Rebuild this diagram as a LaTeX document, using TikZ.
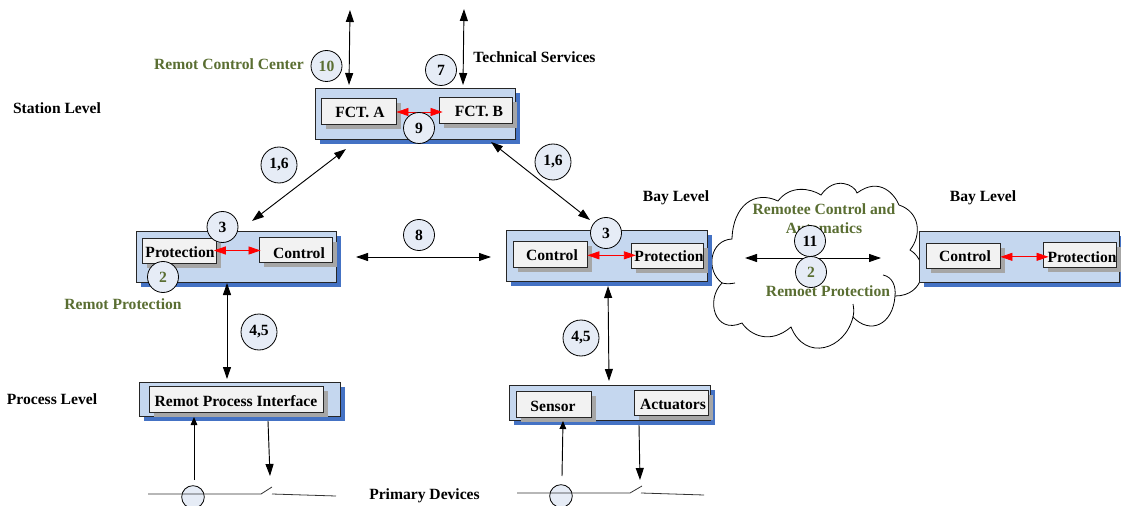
\documentclass[tikz,border=0pt]{standalone}
\usepackage{fontspec}
\setmainfont{Liberation Serif}
\usepackage{tikz}
\usetikzlibrary{arrows.meta}
\usetikzlibrary{fit}
\definecolor{panelfill}{HTML}{C5D7EF}
\definecolor{panelblue}{HTML}{4472C4}
\definecolor{cellgrey}{HTML}{A6A6A6}
\definecolor{cellfill}{HTML}{F2F2F2}
\definecolor{badgefill}{HTML}{E6ECF6}
\definecolor{remotgreen}{HTML}{5A6E32}
\tikzset{
  panel/.style={draw=black!85,line width=0.65pt,fill=panelfill,inner sep=0pt},
  cellbox/.style={draw=black!85,line width=0.65pt,fill=cellfill,inner sep=0pt},
  badge/.style={shape=circle,draw=black,line width=0.6pt,fill=badgefill,inner sep=0pt,font=\fontsize{11.7}{13}\bfseries},
  meter/.style={shape=circle,draw=black,line width=0.6pt,fill=badgefill,minimum size=17pt,inner sep=0pt},
  lbl/.style={inner sep=0pt,font=\fontsize{11.7}{13}\bfseries},
  greenlbl/.style={lbl,text=remotgreen},
  link/.style={line width=0.7pt,{Triangle[length=9pt,width=6pt]}-{Triangle[length=9pt,width=6pt]}},
  redlink/.style={red,line width=0.6pt,{Triangle[length=9pt,width=6pt]}-{Triangle[length=9pt,width=6pt]}},
  feed/.style={line width=0.7pt,-{Triangle[length=9pt,width=6pt]}},
  feedup/.style={line width=0.7pt,-{Triangle[length=6pt,width=5pt]}},
  busline/.style={line width=0.6pt,black!80}
}
\newcommand{\panelbox}[5]{
  \fill[panelblue] (#2+5,#3+5) rectangle (#4+5,#5+5);
  \node[panel,fit={(#2,#3)(#4,#5)}] (#1) {};}
\newcommand{\cellnode}[8]{
  \fill[cellgrey] (#2+5,#3+5) rectangle (#4+5,#5+5);
  \node[cellbox,fit={(#2,#3)(#4,#5)}] (#1) {};
  \node[lbl] (#1text) at (#6,#7) {#8};}
\newcommand{\numbadge}[5]{\node[badge,minimum size=#4*1.5pt] (#1) at (#2,#3) {#5};}
\begin{document}
\begin{tikzpicture}[x=0.75pt,y=-0.75pt]
\useasboundingbox (0,0) rectangle (1121,506);
% free ends of the links
\coordinate (rcup) at (350,10);
\coordinate (rcdown) at (349,85);
\coordinate (tsup) at (464,9);
\coordinate (tsdown) at (463,85);
\coordinate (leftup) at (346,149);
\coordinate (leftdown) at (252,221);
\coordinate (rightup) at (491,142);
\coordinate (rightdown) at (590,220);
\coordinate (hleft) at (356,257);
\coordinate (hright) at (491,257);
\coordinate (vlefttop) at (227,283);
\coordinate (vleftbot) at (227,379);
\coordinate (vmidtop) at (608,286);
\coordinate (vmidbot) at (609,381);
\coordinate (cloudleft) at (745,258);
\coordinate (cloudright) at (881,258);
% cloud
\draw[line width=0.6pt,fill=white]
  (732,239) .. controls (733,205) and (755,190) .. (778,201)
  .. controls (790,185) and (810,188) .. (821,195)
  .. controls (835,175) and (855,185) .. (857,193)
  .. controls (880,176) and (895,195) .. (899,205)
  .. controls (920,212) and (922,235) .. (910,250)
  .. controls (930,262) and (925,296) .. (895,296)
  .. controls (893,325) and (870,335) .. (853,317)
  .. controls (845,350) and (805,362) .. (791,327)
  .. controls (770,345) and (750,335) .. (742,323)
  .. controls (715,335) and (705,300) .. (722,283)
  .. controls (705,270) and (710,240) .. (732,239) -- cycle;
\draw[line width=0.6pt] (883,275) .. controls (893,277) and (896,287) .. (895,296);
\draw[line width=0.6pt] (853,304) .. controls (854,309) and (854,313) .. (853,317);
\draw[line width=0.6pt] (722,283) .. controls (726,284) and (730,284) .. (735,283);
% station level
\panelbox{station}{315}{88}{515}{139}
\cellnode{fcta}{321}{98}{396}{124}{360}{112}{FCT. A}
\cellnode{fctb}{439}{97}{512}{123}{479}{111}{FCT. B}
% bay level
\panelbox{bayleft}{136}{231}{336}{282}
\cellnode{protleft}{142}{238}{216}{263}{180}{252}{Protection}
\cellnode{ctrlleft}{259}{237}{332}{262}{299}{253}{Control}
\panelbox{baymid}{506}{230}{707}{281}
\cellnode{ctrlmid}{513}{241}{587}{267}{552}{255}{Control}
\cellnode{protmid}{631}{243}{703}{268}{669}{256}{Protection}
\panelbox{bayright}{919}{231}{1119}{282}
\cellnode{ctrlright}{926}{243}{1000}{268}{965}{256}{Control}
\cellnode{protright}{1043}{242}{1116}{267}{1082}{257}{Protection}
% process level
\panelbox{procleft}{139}{382}{340}{416}
\cellnode{iface}{149}{386}{323}{412}{236}{401}{Remot Process Interface}
\panelbox{procmid}{509}{385}{710}{420}
\cellnode{sensor}{516}{391}{591}{417}{553}{406}{Sensor}
\cellnode{actuators}{634}{390}{708}{415}{673}{404}{Actuators}
% links
\draw[link] (rcup) -- (rcdown);
\draw[link] (tsup) -- (tsdown);
\draw[link] (leftup) -- (leftdown);
\draw[link] (rightup) -- (rightdown);
\draw[link] (hleft) -- (hright);
\draw[link] (vlefttop) -- (vleftbot);
\draw[link] (vmidtop) -- (vmidbot);
\draw[link] (cloudleft) -- (cloudright);
\draw[redlink,shorten >=-3pt] ([yshift=-0.75pt]fcta.east) -- ([yshift=-0.75pt]fcta.east -| fctb.west);
\draw[redlink,shorten <=-2pt,shorten >=-1.5pt] (protleft.east) -- (protleft.east -| ctrlleft.west);
\draw[redlink,shorten >=-4pt] ([yshift=-1pt]ctrlmid.east) -- ([yshift=-1pt]ctrlmid.east -| protmid.west);
\draw[redlink,shorten >=-4.5pt] ([yshift=-1pt]ctrlright.east) -- ([yshift=-1pt]ctrlright.east -| protright.west);
% primary devices, left
\coordinate (busa) at (148,494);
\coordinate (busb) at (261,494);
\coordinate (busc) at (272,487);
\coordinate (busd) at (272,494);
\coordinate (buse) at (336,496);
\coordinate (feedaup) at (194,480);
\coordinate (feedatop) at (194,417);
\coordinate (feedbtop) at (268,421);
\coordinate (feedbbot) at (270,476);
\node[meter] (meterleft) at (193,497) {};
\draw[busline] (busa) -- (busb) -- (busc);
\draw[busline] (busd) -- (buse);
\draw[feedup] (feedaup) -- (feedatop);
\draw[feed] (feedbtop) -- (feedbbot);
% primary devices, middle
\coordinate (busf) at (517,493);
\coordinate (busg) at (630,493);
\coordinate (bush) at (642,486);
\coordinate (busi) at (641,493);
\coordinate (busj) at (704,495);
\coordinate (feedcup) at (562,476);
\coordinate (feedctop) at (563,421);
\coordinate (feeddtop) at (639,425);
\coordinate (feeddbot) at (640,480);
\node[meter] (metermid) at (561,496) {};
\draw[busline] (busf) -- (busg) -- (bush);
\draw[busline] (busi) -- (busj);
\draw[feedup] (feedcup) -- (feedctop);
\draw[feed] (feeddtop) -- (feeddbot);
% level labels
\node[lbl] (stationlbl) at (57,108) {Station Level};
\node[lbl] (processlbl) at (52,399) {Process Level};
\node[lbl] (baylbla) at (676,198) {Bay Level};
\node[lbl] (baylblb) at (983,198) {Bay Level};
\node[lbl] (techlbl) at (534.5,57) {Technical Services};
\node[lbl] (primarylbl) at (424.5,496) {Primary Devices};
\node[greenlbl] (rcclbl) at (229,64) {Remot Control Center};
\node[greenlbl] (rplbl) at (123,304) {Remot Protection};
\node[greenlbl] (cloudlbla) at (824,209) {Remotee Control and};
\node[greenlbl] (cloudlblb) at (824,228) {Automatics};
\node[greenlbl] (cloudlblc) at (828,291) {Remoet Protection};
% numbered circles
\numbadge{nten}{326.5}{66}{15.5}{\textcolor{remotgreen}{10}}
\numbadge{nseven}{441}{70}{15.5}{7}
\numbadge{nnine}{419}{128}{15.5}{9}
\numbadge{nonea}{279}{165}{18}{1,6}
\numbadge{noneb}{553}{162}{18}{1,6}
\numbadge{nthreea}{222.5}{227}{15.5}{3}
\numbadge{ntwoa}{163}{277}{15.5}{\textcolor{remotgreen}{2}}
\numbadge{neight}{419}{235}{15.5}{8}
\numbadge{nthreeb}{606}{233}{15.5}{3}
\numbadge{nfoura}{259}{332}{18}{4,5}
\numbadge{nfourb}{581}{338}{18}{4,5}
\numbadge{neleven}{810}{241}{15.5}{11}
\numbadge{ntwob}{811}{272}{15.5}{\textcolor{remotgreen}{2}}
\end{tikzpicture}
\end{document}
